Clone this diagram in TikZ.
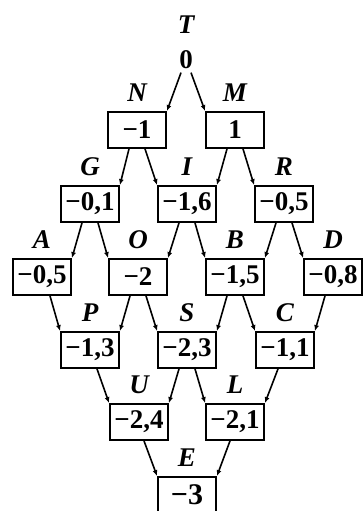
\documentclass[tikz,border=0pt]{standalone}
\usepackage{fontspec}
\setmainfont{Liberation Serif}
\usetikzlibrary{arrows.meta,positioning}

\begin{document}
\begin{tikzpicture}[
  x=1pt, y=-1pt,
  font=\fontsize{27}{29}\selectfont\bfseries,
  val/.style={draw, line width=1.8pt, minimum width=58pt, minimum height=36pt, inner sep=1pt},
  lbl/.style={font=\fontsize{27}{29}\selectfont\bfseries\itshape, inner sep=1pt, label distance=8pt},
  arr/.style={-{Latex[length=6pt,width=5pt]}, line width=1.6pt}
]
\useasboundingbox (0,0) rectangle (362,511);
\node[lbl] (tl) at (186,25) {T};
\node (t) at (186,60) {0};
\node[val, label={[lbl]above:N}] (n) at (137,130) {−1};
\node[val, label={[lbl]above:M}] (m) at (235,130) {1};
\node[val, label={[lbl]above:G}] (g) at (90,204) {−0,1};
\node[val, label={[lbl]above:I}] (i) at (187,204) {−1,6};
\node[val, label={[lbl]above:R}] (r) at (284,204) {−0,5};
\node[val, label={[lbl]above:A}] (a) at (42,277) {−0,5};
\node[val, label={[lbl]above:O}] (o) at (138,277) {−2};
\node[val, label={[lbl]above:B}] (b) at (235,277) {−1,5};
\node[val, label={[lbl]above:D}] (d) at (333,277) {−0,8};
\node[val, label={[lbl]above:P}] (p) at (90,350) {−1,3};
\node[val, label={[lbl]above:S}] (s) at (187,350) {−2,3};
\node[val, label={[lbl]above:C}] (c) at (285,350) {−1,1};
\node[val, label={[lbl]above:U}] (u) at (139,422) {−2,4};
\node[val, label={[lbl]above:L}] (l) at (235,422) {−2,1};
\node[val, label={[lbl]above:E}, font=\fontsize{30}{32}\selectfont\bfseries] (e) at (187,495) {−3};
% top
\draw[arr] ([xshift=-5pt]t.south) -- (n.north east);
\draw[arr] ([xshift=5pt]t.south) -- (m.north west);
% row 1 -> row 2
\draw[arr] ([xshift=-8pt]n.south) -- (g.north east);
\draw[arr] ([xshift=8pt]n.south) -- (i.north west);
\draw[arr] ([xshift=-8pt]m.south) -- (i.north east);
\draw[arr] ([xshift=8pt]m.south) -- (r.north west);
% row 2 -> row 3
\draw[arr] ([xshift=-8pt]g.south) -- (a.north east);
\draw[arr] ([xshift=8pt]g.south) -- (o.north west);
\draw[arr] ([xshift=-8pt]i.south) -- (o.north east);
\draw[arr] ([xshift=8pt]i.south) -- (b.north west);
\draw[arr] ([xshift=-8pt]r.south) -- (b.north east);
\draw[arr] ([xshift=8pt]r.south) -- (d.north west);
% row 3 -> row 4
\draw[arr] ([xshift=8pt]a.south) -- (p.north west);
\draw[arr] ([xshift=-8pt]o.south) -- (p.north east);
\draw[arr] ([xshift=8pt]o.south) -- (s.north west);
\draw[arr] ([xshift=-8pt]b.south) -- (s.north east);
\draw[arr] ([xshift=8pt]b.south) -- (c.north west);
\draw[arr] ([xshift=-8pt]d.south) -- (c.north east);
% row 4 -> row 5
\draw[arr] ([xshift=7pt]p.south) -- (u.north west);
\draw[arr] ([xshift=-8pt]s.south) -- (u.north east);
\draw[arr] ([xshift=8pt]s.south) -- (l.north west);
\draw[arr] ([xshift=-7pt]c.south) -- (l.north east);
% row 5 -> bottom
\draw[arr] ([xshift=5pt]u.south) -- (e.north west);
\draw[arr] ([xshift=-5pt]l.south) -- (e.north east);
\end{tikzpicture}
\end{document}
